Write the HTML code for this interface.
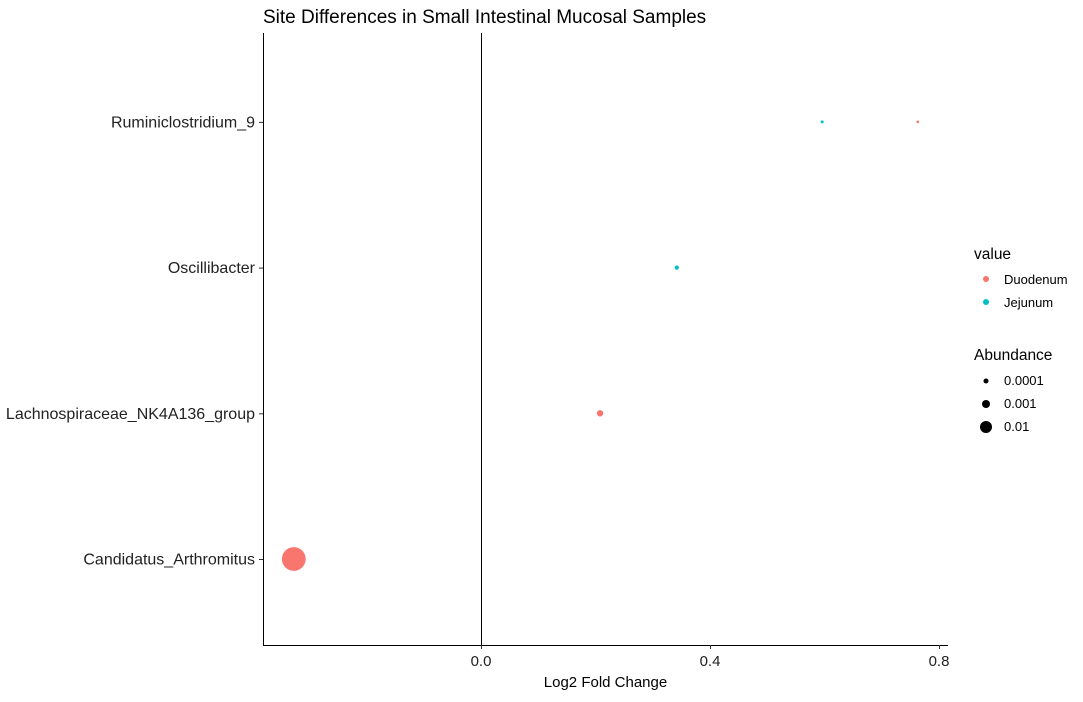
<!DOCTYPE html>
<html><head><meta charset="utf-8">
<style>
body{margin:0;background:#fff;font-family:"Liberation Sans",Arial,sans-serif;}
svg text{font-family:"Liberation Sans",Arial,sans-serif;}
</style></head><body>
<svg id="chart" width="1083" height="697" xmlns="http://www.w3.org/2000/svg">
<rect width="1083" height="697" fill="#fff"/>
<text x="263" y="23" font-size="19" fill="#000">Site Differences in Small Intestinal Mucosal Samples</text>
<g id="axes"></g>
<g id="marks"></g>
<g id="legend">
<text x="974" y="259" font-size="15.5">value</text>
<circle cx="986" cy="279" r="3" fill="#F8766D"/>
<text x="1004" y="284" font-size="13">Duodenum</text>
<circle cx="986" cy="302" r="3" fill="#00BFC4"/>
<text x="1004" y="307" font-size="13">Jejunum</text>
<text x="974" y="360" font-size="15.5">Abundance</text>
<circle cx="986" cy="381" r="2.5" fill="#000"/>
<text x="1004" y="385" font-size="13">0.0001</text>
<circle cx="986" cy="404" r="4" fill="#000"/>
<text x="1004" y="408" font-size="13">0.001</text>
<circle cx="986" cy="427" r="6" fill="#000"/>
<text x="1004" y="431" font-size="13">0.01</text>
</g>
</svg>
<script>
const categories=["Candidatus_Arthromitus","Lachnospiraceae_NK4A136_group","Oscillibacter","Ruminiclostridium_9"];
const pointTaxa=["Ruminiclostridium_9","Ruminiclostridium_9","Oscillibacter","Lachnospiraceae_NK4A136_group","Candidatus_Arthromitus"];
const pointSites=["Jejunum","Duodenum","Jejunum","Duodenum","Duodenum"];
const pointLfc=[0.596,0.763,0.342,0.208,-0.327];
const pointAbundance=[0.000004,0.000003,0.00003,0.0003,0.45];
const xTicks=[0.0,0.4,0.8];
const xTickLabels=["0.0","0.4","0.8"];
const NS="http://www.w3.org/2000/svg";
const X0=481,XS=572.5,L=263,R=948,T=33,B=645;
function x(v){return X0+v*XS;}
function y(c){return 559-categories.indexOf(c)*145.7;}
function r(a){return 6*Math.pow(a/0.01,0.18);}
const colors={Duodenum:"#F8766D",Jejunum:"#00BFC4"};
function mk(tag,attrs,parent){const e=document.createElementNS(NS,tag);for(const k in attrs)e.setAttribute(k,attrs[k]);parent.appendChild(e);return e;}
const ax=document.getElementById('axes'),mg=document.getElementById('marks');
let e=mk('line',{x1:L+0.5,y1:T,x2:L+0.5,y2:B,stroke:'#000','stroke-width':1},ax);


e=mk('line',{x1:L,y1:B+0.5,x2:R,y2:B+0.5,stroke:'#000','stroke-width':1},ax);


e=mk('line',{x1:x(0)+0.5,y1:T,x2:x(0)+0.5,y2:B,stroke:'#000','stroke-width':1},ax);


xTicks.forEach((v,i)=>{
 let t=mk('line',{x1:x(v)+0.5,y1:B,x2:x(v)+0.5,y2:B+4,stroke:'#333'},ax);
 
 
 let l=mk('text',{x:x(v),y:B+21,'font-size':15,'text-anchor':'middle',fill:'#222'},ax);
 l.textContent=xTickLabels[i];
 
 
});
categories.forEach(c=>{
 let t=mk('line',{x1:L-4,y1:y(c)+0.5,x2:L,y2:y(c)+0.5,stroke:'#333'},ax);
 
 
 let l=mk('text',{x:L-8,y:y(c)+5.5,'font-size':16,'text-anchor':'end',fill:'#222'},ax);
 l.textContent=c;
 
 
});
let xt=mk('text',{x:(L+R)/2,y:687,'font-size':15,'text-anchor':'middle'},ax);
xt.textContent="Log2 Fold Change";


pointLfc.forEach((v,i)=>{
 let c=mk('circle',{cx:x(v),cy:y(pointTaxa[i]),r:r(pointAbundance[i]),fill:colors[pointSites[i]]},mg);
 
 
});
</script>
</body></html>
